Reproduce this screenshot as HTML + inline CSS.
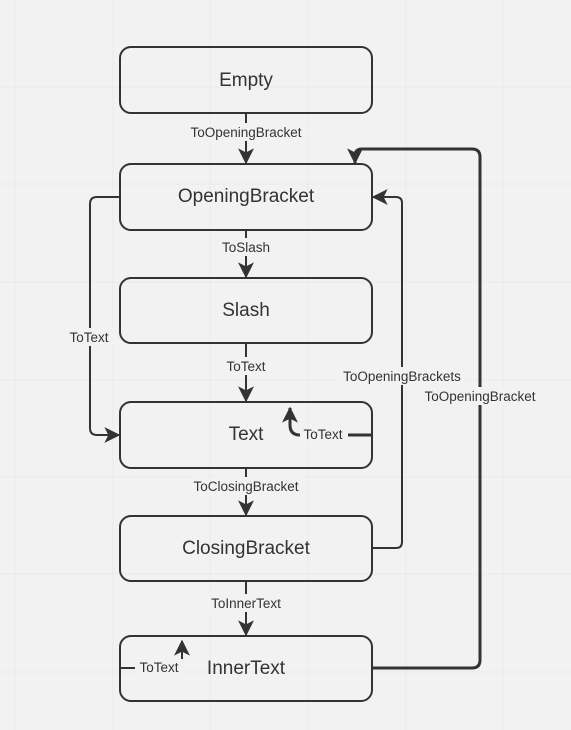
<!DOCTYPE html>
<html><head><meta charset="utf-8"><style>
html,body{margin:0;padding:0;background:#f2f2f2;}
svg{display:block;font-family:"Liberation Sans",sans-serif;}
</style></head><body>
<svg width="571" height="730" viewBox="0 0 571 730" xmlns="http://www.w3.org/2000/svg">
<defs>
<marker id="a" viewBox="0 0 12 12" refX="11" refY="6" markerWidth="16" markerHeight="16" markerUnits="userSpaceOnUse" orient="auto">
<path d="M0,0 L12,6 L0,12 L3,6 Z" fill="#333"/>
</marker>
</defs>
<rect width="571" height="730" fill="#f2f2f2"/>
<g stroke="#e9e9e9" stroke-width="1">
<line x1="15" y1="0" x2="15" y2="730"/><line x1="113" y1="0" x2="113" y2="730"/><line x1="210" y1="0" x2="210" y2="730"/><line x1="308" y1="0" x2="308" y2="730"/><line x1="406" y1="0" x2="406" y2="730"/><line x1="503" y1="0" x2="503" y2="730"/>
<line x1="0" y1="87" x2="571" y2="87"/><line x1="0" y1="184" x2="571" y2="184"/><line x1="0" y1="282" x2="571" y2="282"/><line x1="0" y1="380" x2="571" y2="380"/><line x1="0" y1="477" x2="571" y2="477"/><line x1="0" y1="574" x2="571" y2="574"/><line x1="0" y1="672" x2="571" y2="672"/>
</g>
<g fill="none" stroke="#333" stroke-width="2">
<rect x="120" y="47" width="252" height="66" rx="11"/>
<rect x="120" y="164" width="252" height="66" rx="11"/>
<rect x="120" y="278" width="252" height="65" rx="11"/>
<rect x="120" y="402" width="252" height="66" rx="11"/>
<rect x="120" y="516" width="252" height="65" rx="11"/>
<rect x="120" y="636" width="252" height="65" rx="11"/>
</g>
<g fill="none" stroke="#333" stroke-width="2">
<line x1="246" y1="113" x2="246" y2="163" marker-end="url(#a)"/>
<line x1="246" y1="230" x2="246" y2="277" marker-end="url(#a)"/>
<line x1="246" y1="343" x2="246" y2="401" marker-end="url(#a)"/>
<line x1="246" y1="468" x2="246" y2="515" marker-end="url(#a)"/>
<line x1="246" y1="581" x2="246" y2="635" marker-end="url(#a)"/>
<path d="M120,197 H97 Q90,197 90,204 V428 Q90,435 97,435 H119" marker-end="url(#a)"/>
<path d="M372,548 H396 Q402,548 402,542 V203 Q402,197 396,197 H373" marker-end="url(#a)"/>
<path d="M372,668 H472 Q480,668 480,660 V157 Q480,149 472,149 H362 Q355,149 355,156 V163" stroke-width="3" marker-end="url(#a)"/>
<path d="M372,435 H300 Q290,435 290,425 V408" stroke-width="3" marker-end="url(#a)"/>
<path d="M120,668 H182 V641" marker-end="url(#a)"/>
</g>
<g font-size="19" fill="#333" text-anchor="middle">
<text x="246" y="86">Empty</text>
<text x="246" y="202">OpeningBracket</text>
<text x="246" y="316">Slash</text>
<text x="246" y="440">Text</text>
<text x="246" y="554">ClosingBracket</text>
<text x="246" y="674">InnerText</text>
</g>
<g font-size="13.5" fill="#333" text-anchor="middle">
<rect x="184" y="123" width="124" height="18" fill="#f2f2f2"/><text x="246" y="137">ToOpeningBracket</text>
<rect x="218" y="238" width="56" height="18" fill="#f2f2f2"/><text x="246" y="252">ToSlash</text>
<rect x="220" y="357" width="52" height="18" fill="#f2f2f2"/><text x="246" y="371">ToText</text>
<rect x="188" y="477" width="116" height="18" fill="#f2f2f2"/><text x="246" y="491">ToClosingBracket</text>
<rect x="204" y="594" width="84" height="18" fill="#f2f2f2"/><text x="246" y="608">ToInnerText</text>
<rect x="64" y="328" width="50" height="18" fill="#f2f2f2"/><text x="89" y="342">ToText</text>
<rect x="338" y="367" width="128" height="18" fill="#f2f2f2"/><text x="402" y="381">ToOpeningBrackets</text>
<rect x="418" y="387" width="124" height="18" fill="#f2f2f2"/><text x="480" y="401">ToOpeningBracket</text>
<rect x="300" y="426" width="48" height="17" fill="#f2f2f2"/><text x="323" y="439">ToText</text>
<rect x="135" y="659" width="48" height="17" fill="#f2f2f2"/><text x="159" y="672">ToText</text>
</g>
</svg>
</body></html>
